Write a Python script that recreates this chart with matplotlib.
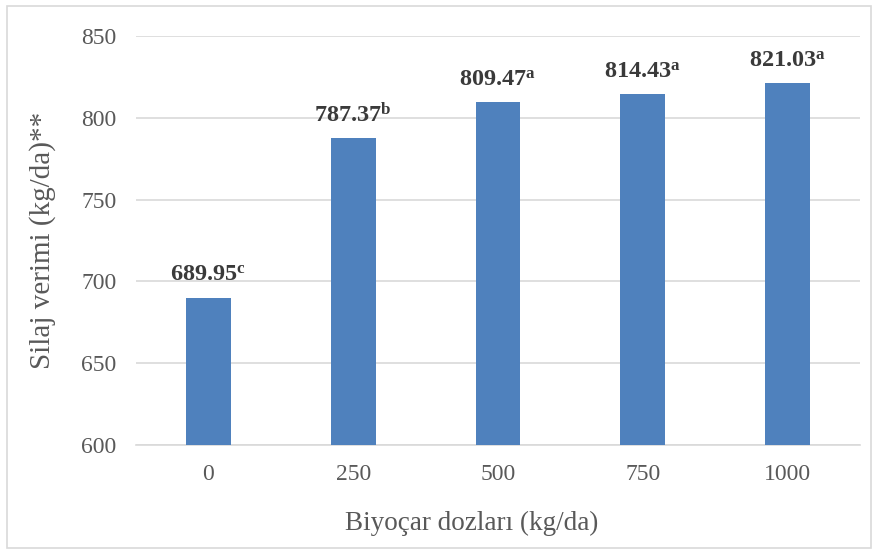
import matplotlib.pyplot as plt
from matplotlib.patches import Rectangle

plt.rcParams['font.family'] = ['Liberation Serif', 'DejaVu Serif']
plt.rcParams['mathtext.fontset'] = 'custom'
plt.rcParams['mathtext.rm'] = 'Liberation Serif'
plt.rcParams['mathtext.bf'] = 'Liberation Serif:bold'

doses = ['0', '250', '500', '750', '1000']
yields = [689.95, 787.37, 809.47, 814.43, 821.03]
letters = ['c', 'b', 'a', 'a', 'a']

fig = plt.figure(figsize=(8.78, 5.54), dpi=100)
ax = fig.add_axes([136 / 878, 1 - 445 / 554, (860 - 136) / 878, (445 - 36) / 554])

x = range(len(doses))
ax.bar(x, yields, width=0.31, color='#4f81bd', zorder=3)

# value labels with the significance letter as superscript
for i, (v, l) in enumerate(zip(yields, letters)):
    ax.annotate(r'$\mathbf{%.2f^{%s}}$' % (v, l), xy=(i, v), xytext=(0, 12),
                textcoords='offset points', ha='center', va='baseline',
                fontsize=17.5, color='#3a3a3a')

ax.set_ylim(600, 850)
ax.set_xlim(-0.5, len(doses) - 0.5)
ax.set_yticks([600, 650, 700, 750, 800, 850])
ax.set_xticks(list(x))
ax.set_xticklabels(doses)
ax.yaxis.grid(True, color='#d9d9d9', linewidth=1.2, zorder=0)
ax.tick_params(length=0, labelsize=17, colors='#595959')
ax.tick_params(axis='y', pad=14)
ax.tick_params(axis='x', pad=14)
for s in ['top', 'right', 'left']:
    ax.spines[s].set_visible(False)
ax.spines['bottom'].set_color('#d9d9d9')
ax.spines['bottom'].set_linewidth(1.2)

ax.set_xlabel('Biyoçar dozları (kg/da)', fontsize=19.5, color='#595959')
ax.xaxis.set_label_coords(0.464, -0.16)
ax.set_ylabel('Silaj verimi (kg/da)**', fontsize=21, color='#595959', labelpad=18)

fig.patches.append(Rectangle((7 / 878, 6 / 554), 864 / 878, 542 / 554,
                             transform=fig.transFigure, fill=False,
                             edgecolor='#d9d9d9', linewidth=1.2))

fig.savefig('out.png', dpi=100)
